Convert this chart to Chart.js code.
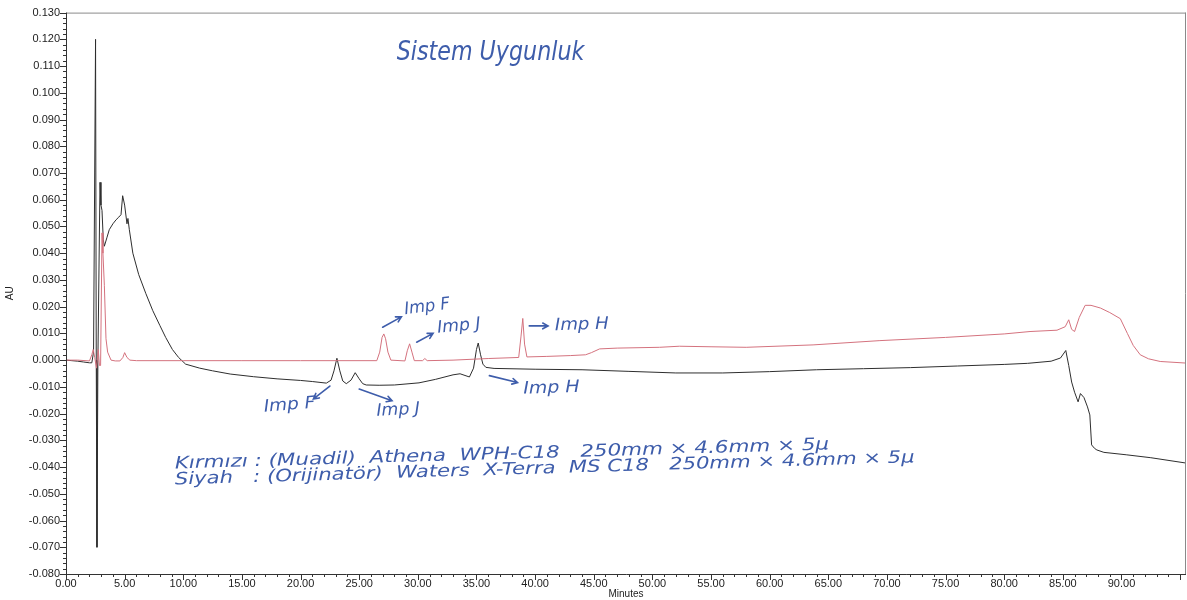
<!DOCTYPE html>
<html><head><meta charset="utf-8">
<script src="https://cdn.jsdelivr.net/npm/chart.js@4.4.1/dist/chart.umd.min.js"></script>
<style>html,body{margin:0;padding:0;background:#fff;}#wrap{width:1187px;height:600px;}</style>
</head><body><div id="wrap"><canvas id="c" width="1187" height="600"></canvas></div>
<script>
// ---- data (minutes, AU) ----
const blackTimes = [0,0.5,1.0,1.5,2.0,2.2,2.35,2.52,2.58,2.64,2.72,2.90,2.98,3.07,3.18,3.27,3.50,3.69,4.00,4.27,4.50,4.69,4.83,5.00,5.20,5.28,5.40,5.70,6.20,6.80,7.40,8.00,8.50,9.07,9.60,10.2,11.4,12.5,14.0,16.0,18.0,20.0,21.0,22.2,22.6,22.85,23.1,23.35,23.6,23.9,24.3,24.66,25.0,25.3,25.6,26.7,28.0,30.1,31.5,33.0,33.6,34.4,34.75,35.0,35.15,35.35,35.55,35.8,36.5,40,44,48,52,56,60,64,68,72,76,80,82,84,84.8,85.25,85.5,85.75,86.0,86.3,86.5,86.8,87.1,87.3,87.45,87.7,87.9,88.5,90.4,92.5,95.5];
const blackValues = [0,-0.0002,-0.0004,-0.0007,-0.0010,-0.0010,0.0030,0.1200,0.0000,-0.0700,0.0000,0.0665,0.0580,0.0560,0.0450,0.0426,0.0460,0.0488,0.0510,0.0525,0.0535,0.0544,0.0615,0.0580,0.0510,0.0530,0.0488,0.0400,0.0320,0.0250,0.0185,0.0130,0.0085,0.0040,0.0010,-0.0015,-0.0030,-0.0040,-0.0052,-0.0062,-0.0070,-0.0076,-0.0080,-0.0086,-0.0075,-0.0040,0.0007,-0.0040,-0.0078,-0.0088,-0.0075,-0.0047,-0.0070,-0.0088,-0.0093,-0.0094,-0.0093,-0.0085,-0.0072,-0.0055,-0.0051,-0.0063,-0.0030,0.0040,0.0064,0.0020,-0.0015,-0.0027,-0.0031,-0.0034,-0.0036,-0.0042,-0.0048,-0.0048,-0.0043,-0.0036,-0.0032,-0.0028,-0.0022,-0.0016,-0.0012,-0.0004,0.0008,0.0036,-0.0020,-0.0082,-0.0120,-0.0156,-0.0125,-0.0140,-0.0175,-0.0205,-0.0317,-0.0330,-0.0336,-0.0345,-0.0354,-0.0365,-0.0385];
const redTimes = [0,1.0,2.0,2.2,2.32,2.45,2.6,2.75,2.85,2.95,3.07,3.15,3.27,3.41,3.55,3.84,4.2,4.6,4.85,5.0,5.2,5.45,6.0,10,15,20,26.5,26.75,26.95,27.1,27.25,27.45,27.7,28.9,29.1,29.3,29.5,29.7,30.4,30.6,30.8,33,36,38.6,38.8,38.95,39.1,39.3,41,43,44.3,44.8,45.5,47,50.6,52.3,55,58,63.7,69.4,75,80,82.2,84.5,85.2,85.5,85.75,86.0,86.4,86.9,87.4,88.2,89.0,89.9,90.5,91.0,91.6,92.3,93.3,95.5];
const redValues = [0,0,-0.0003,0.002,0.004,0.001,-0.003,0.004,-0.002,-0.002,0.0476,0.040,0.028,0.008,0.003,0.000,-0.0003,-0.0003,0.001,0.0028,0.001,0.000,-0.0002,-0.0002,-0.0002,-0.0002,-0.0002,0.003,0.0085,0.0098,0.008,0.003,0.000,-0.0003,0.0035,0.0061,0.003,-0.0002,-0.0002,0.0006,-0.0002,0.000,0.0006,0.0010,0.0090,0.0156,0.0060,0.0012,0.0014,0.0017,0.0020,0.0028,0.0042,0.0045,0.0048,0.0052,0.0050,0.0048,0.0057,0.0073,0.0085,0.0098,0.0107,0.0112,0.0125,0.0151,0.0115,0.0107,0.0160,0.0205,0.0205,0.0195,0.0178,0.0155,0.0100,0.0055,0.0020,0.0005,-0.0005,-0.0011];
const xTickValues = [0,5,10,15,20,25,30,35,40,45,50,55,60,65,70,75,80,85,90];
const yTickValues = [-0.08,-0.07,-0.06,-0.05,-0.04,-0.03,-0.02,-0.01,0,0.01,0.02,0.03,0.04,0.05,0.06,0.07,0.08,0.09,0.10,0.11,0.12,0.13];
const xAxisTitle = 'Minutes';
const yAxisTitle = 'AU';

// ---- handwritten notes (anchored in data units) ----
const notes = [
  {text:'Sistem Uygunluk', t0:28.2, t1:44.2, v:0.1123, rot:0, size:26},
  {text:'Imp F', t0:28.9, t1:32.8, v:0.0172, rot:-0.12, size:17},
  {text:'Imp J', t0:31.7, t1:35.4, v:0.0102, rot:-0.10, size:17},
  {text:'Imp H', t0:41.7, t1:46.3, v:0.0112, rot:-0.03, size:17},
  {text:'Imp F', t0:16.9, t1:21.3, v:-0.0193, rot:-0.08, size:17},
  {text:'Imp J', t0:26.5, t1:30.2, v:-0.0208, rot:-0.05, size:17},
  {text:'Imp H', t0:39.0, t1:43.8, v:-0.0125, rot:-0.03, size:17},
  {text:'Kırmızı : (Muadil)  Athena  WPH-C18   250mm × 4.6mm × 5µ', t0:9.3, t1:65.1, v:-0.0405, rot:-0.029, size:17},
  {text:'Siyah   : (Orijinatör)  Waters  X-Terra  MS C18   250mm × 4.6mm × 5µ', t0:9.3, t1:72.4, v:-0.0465, rot:-0.030, size:17}
];
const arrows = [
  {t0:27.0, v0:0.0123, t1:28.6, v1:0.0162},
  {t0:29.9, v0:0.0067, t1:31.3, v1:0.0100},
  {t0:39.5, v0:0.0128, t1:41.1, v1:0.0128},
  {t0:22.5, v0:-0.0097, t1:21.1, v1:-0.0145},
  {t0:25.0, v0:-0.0108, t1:27.8, v1:-0.0152},
  {t0:36.1, v0:-0.0058, t1:38.5, v1:-0.0084}
];

const blackPts = blackTimes.map((t,i)=>({x:t,y:blackValues[i]}));
const redPts = redTimes.map((t,i)=>({x:t,y:redValues[i]}));

const framePlugin = {
  id:'frame',
  afterDraw(chart){
    const {ctx, chartArea:a, scales:{x,y}} = chart;
    ctx.save();
    ctx.lineWidth = 1;
    ctx.strokeStyle = '#8a8a8a';
    ctx.beginPath();
    ctx.moveTo(a.left, a.top+0.5); ctx.lineTo(a.right, a.top+0.5);
    ctx.moveTo(a.right-0.5, a.top); ctx.lineTo(a.right-0.5, a.bottom);
    ctx.stroke();
    ctx.strokeStyle = '#333';
    ctx.beginPath();
    ctx.moveTo(a.left+0.5, a.top); ctx.lineTo(a.left+0.5, a.bottom+0.5); ctx.lineTo(a.right, a.bottom+0.5);
    for (let i=0;i<=Math.floor(x.max);i++){
      const px = Math.round(x.getPixelForValue(i))+0.5;
      const len = i%5===0?6:3;
      ctx.moveTo(px, a.bottom); ctx.lineTo(px, a.bottom+len);
    }
    for (let k=-40;k<=65;k++){
      const py = Math.round(y.getPixelForValue(k*0.002))+0.5;
      const len = k%5===0?6:3;
      ctx.moveTo(a.left, py); ctx.lineTo(a.left-len, py);
    }
    ctx.stroke();
    ctx.restore();
  }
};

const notesPlugin = {
  id:'notes',
  afterDatasetsDraw(chart){
    const {ctx, scales:{x,y}} = chart;
    ctx.save();
    ctx.fillStyle = '#3e5dab';
    ctx.strokeStyle = '#3e5dab';
    ctx.lineWidth = 1.6;
    ctx.lineCap = 'round';
    notes.forEach(n=>{
      const x0 = x.getPixelForValue(n.t0), x1 = x.getPixelForValue(n.t1), yy = y.getPixelForValue(n.v);
      ctx.font = 'italic ' + n.size + 'px "DejaVu Sans"';
      const w = ctx.measureText(n.text).width;
      ctx.save();
      ctx.translate(x0, yy);
      ctx.rotate(n.rot);
      ctx.scale((x1-x0)/w, 1);
      ctx.textBaseline = 'alphabetic';
      ctx.fillText(n.text, 0, 0);
      ctx.restore();
    });
    arrows.forEach(ar=>{
      const ax = x.getPixelForValue(ar.t0), ay = y.getPixelForValue(ar.v0);
      const bx = x.getPixelForValue(ar.t1), by = y.getPixelForValue(ar.v1);
      const ang = Math.atan2(by-ay, bx-ax);
      ctx.beginPath();
      ctx.moveTo(ax, ay); ctx.lineTo(bx, by);
      ctx.moveTo(bx - 6*Math.cos(ang-0.5), by - 6*Math.sin(ang-0.5));
      ctx.lineTo(bx, by);
      ctx.lineTo(bx - 6*Math.cos(ang+0.5), by - 6*Math.sin(ang+0.5));
      ctx.stroke();
    });
    ctx.restore();
  }
};

new Chart(document.getElementById('c'), {
  type:'scatter',
  data:{datasets:[
    {label:'Kırmızı', data:redPts, showLine:true, borderColor:'#d4727e', borderWidth:1, pointRadius:0, tension:0},
    {label:'Siyah', data:blackPts, showLine:true, borderColor:'#2e2e2e', borderWidth:1, pointRadius:0, tension:0}
  ]},
  options:{
    responsive:false, animation:false, events:[],
    layout:{padding:{top:8,right:1,left:0,bottom:0}},
    plugins:{legend:{display:false}, tooltip:{enabled:false}},
    scales:{
      x:{type:'linear', min:0, max:95.5,
        afterBuildTicks:s=>{s.ticks = xTickValues.map(v=>({value:v}));},
        afterFit:s=>{s.height = 26;},
        grid:{display:false, drawTicks:false}, border:{display:false},
        ticks:{autoSkip:false, maxRotation:0, padding:3, color:'#222', font:{family:'"Liberation Sans", Arial', size:11}, callback:v=>Number(v).toFixed(2)},
        title:{display:true, text:xAxisTitle, color:'#222', font:{family:'"Liberation Sans", Arial', size:10}, padding:{top:0,bottom:0}}
      },
      y:{type:'linear', min:-0.08, max:0.13,
        afterBuildTicks:s=>{s.ticks = yTickValues.map(v=>({value:v}));},
        afterFit:s=>{s.width = 66;},
        grid:{display:false, drawTicks:false}, border:{display:false},
        ticks:{autoSkip:false, padding:6, color:'#222', font:{family:'"Liberation Sans", Arial', size:11}, callback:v=>{const s=Number(v).toFixed(3); return s==='-0.000'?'0.000':s;}},
        title:{display:true, text:yAxisTitle, color:'#222', font:{family:'"Liberation Sans", Arial', size:10}, padding:{top:4,bottom:4}}
      }
    }
  },
  plugins:[framePlugin, notesPlugin]
});
</script></body></html>
